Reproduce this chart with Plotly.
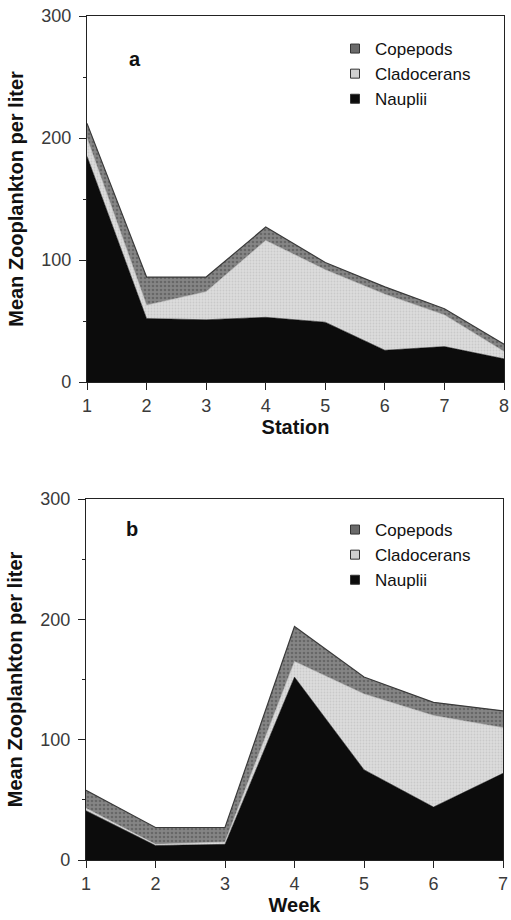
import plotly.graph_objects as go

# Panel a: by station
stations = [1, 2, 3, 4, 5, 6, 7, 8]
nauplii_a = [185, 52, 51, 53, 49, 26, 29, 19]
cladocerans_a = [15, 11, 23, 63, 43, 46, 26, 6]
copepods_a = [12, 23, 12, 11, 6, 6, 5, 6]

# Panel b: by week
weeks = [1, 2, 3, 4, 5, 6, 7]
nauplii_b = [41, 12, 13, 152, 75, 44, 72]
cladocerans_b = [2, 1, 2, 13, 63, 76, 38]
copepods_b = [15, 14, 12, 29, 14, 11, 14]

y_ticks = [0, 100, 200, 300]

col_naup = "#0c0c0c"
col_clad = "#dcdcdc"
col_cope = "#858585"

FONT = "Liberation Sans, Arial, Helvetica, sans-serif"

fig = go.Figure()


def add_panel(x, naup, clad, cope, xa, ya, group):
    fig.add_trace(go.Scatter(x=x, y=naup, name="Nauplii", stackgroup=group,
                             mode="lines", line=dict(width=0.6, color=col_naup),
                             fillcolor=col_naup, xaxis=xa, yaxis=ya, showlegend=False))
    fig.add_trace(go.Scatter(x=x, y=clad, name="Cladocerans", stackgroup=group,
                             mode="lines", line=dict(width=0.6, color="#bdbdbd"),
                             fillcolor=col_clad,
                             fillpattern=dict(shape=".", bgcolor=col_clad, fgcolor="#b5b5b5",
                                              size=3, solidity=0.3),
                             xaxis=xa, yaxis=ya, showlegend=False))
    fig.add_trace(go.Scatter(x=x, y=cope, name="Copepods", stackgroup=group,
                             mode="lines", line=dict(width=1.2, color="#3a3a3a"),
                             fillcolor=col_cope,
                             fillpattern=dict(shape=".", bgcolor=col_cope, fgcolor="#4a4a4a",
                                              size=4, solidity=0.35),
                             xaxis=xa, yaxis=ya, showlegend=False))


add_panel(stations, nauplii_a, cladocerans_a, copepods_a, "x", "y", "a")
add_panel(weeks, nauplii_b, cladocerans_b, copepods_b, "x2", "y2", "b")

# legend proxies
legend_items = [("Copepods", "#6a6a6a"), ("Cladocerans", "#d0d0d0"), ("Nauplii", col_naup)]
for lg in ["legend", "legend2"]:
    for name, c in legend_items:
        fig.add_trace(go.Scatter(x=[None], y=[None], mode="markers", name=name,
                                 marker=dict(symbol="square", size=9, color=c,
                                             line=dict(width=1, color="#333")),
                                 legend=lg, showlegend=True))

axis_common = dict(showline=True, linecolor="#222", linewidth=1.2, mirror=True,
                   ticks="outside", ticklen=7, tickcolor="#222", showgrid=False,
                   zeroline=False, automargin=False, ticklabeloverflow="allow",
                   tickfont=dict(family=FONT, size=18, color="#3a3a3a"))

title_font = dict(size=20, family=FONT, color="#111")
legend_font = dict(size=17, family=FONT, color="#111")

fig.update_layout(
    width=511, height=920,
    margin=dict(l=0, r=0, t=0, b=0, autoexpand=False),
    paper_bgcolor="white", plot_bgcolor="white",
    font=dict(family=FONT, color="#111"),
    xaxis=dict(domain=[87 / 511, 504 / 511], range=[1, 8], tickvals=stations,
               anchor="y",
               title=dict(text="<b>Station</b>", font=title_font, standoff=4),
               **axis_common),
    yaxis=dict(domain=[(920 - 382) / 920, (920 - 16) / 920], range=[0, 300], tickvals=y_ticks,
               anchor="x", ticklabelstandoff=4,
               minor=dict(tickvals=[50, 150, 250], ticklen=3, ticks="outside", tickcolor="#222"),
               title=dict(text="<b>Mean Zooplankton per liter</b>", font=title_font,
                          standoff=12),
               **axis_common),
    xaxis2=dict(domain=[86 / 511, 503 / 511], range=[1, 7], tickvals=weeks, anchor="y2",
                title=dict(text="<b>Week</b>", font=title_font, standoff=4),
                **axis_common),
    yaxis2=dict(domain=[(920 - 860) / 920, (920 - 499) / 920], range=[0, 300], tickvals=y_ticks,
                anchor="x2", ticklabelstandoff=4,
                minor=dict(tickvals=[50, 150, 250], ticklen=3, ticks="outside", tickcolor="#222"),
                title=dict(text="<b>Mean Zooplankton per liter</b>", font=title_font,
                           standoff=12),
                **axis_common),
    legend=dict(x=335 / 511, y=1 - 31 / 920, xanchor="left", yanchor="top",
                bgcolor="rgba(0,0,0,0)", font=legend_font, traceorder="normal",
                tracegroupgap=0, itemwidth=30),
    legend2=dict(x=335 / 511, y=1 - 512 / 920, xanchor="left", yanchor="top",
                 bgcolor="rgba(0,0,0,0)", font=legend_font, traceorder="normal",
                 tracegroupgap=0, itemwidth=30),
    annotations=[
        dict(text="<b>a</b>", x=127 / 511, y=1 - 46 / 920, xref="paper", yref="paper",
             showarrow=False, font=dict(size=20, family=FONT, color="#111")),
        dict(text="<b>b</b>", x=124 / 511, y=1 - 529 / 920, xref="paper", yref="paper",
             showarrow=False, font=dict(size=20, family=FONT, color="#111")),
    ],
)

fig.write_html("out.html")
